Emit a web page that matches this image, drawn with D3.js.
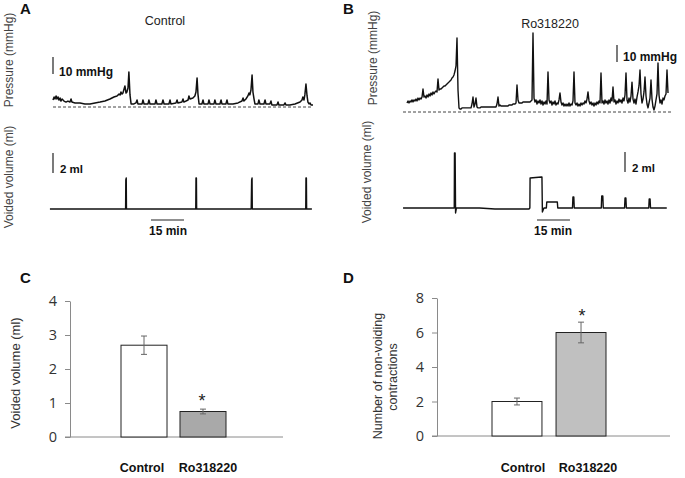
<!DOCTYPE html>
<html><head><meta charset="utf-8">
<script src="https://cdn.jsdelivr.net/npm/d3@7"></script>
<style>body{margin:0;background:#fff}svg{display:block;font-family:"Liberation Sans",Arial,sans-serif}</style>
</head><body><svg id="c" width="685" height="478"></svg>
<script>
// ---------- DATA ----------
// Panel A: control cystometry, pressure (mmHg above baseline) vs time (min)
const pressureA = [[0,4.1],[0.5,5.9],[0.9,4.7],[1.4,6.5],[1.8,4.7],[2.3,5.9],[2.7,4.1],[3.2,5.3],[3.6,3.5],[4.1,4.7],[5.0,3.5],[5.9,2.9],[6.8,3.5],[7.7,2.9],[8.2,4.7],[8.6,2.9],[10.0,2.4],[12.3,2.4],[14.5,1.8],[16.8,1.8],[19.1,2.4],[21.4,2.9],[23.6,3.5],[25.9,4.7],[27.7,5.9],[29.1,6.5],[30.0,7.6],[30.5,7.1],[30.9,8.8],[31.4,7.6],[31.8,8.2],[32.7,12.4],[33.2,8.2],[33.6,8.8],[34.1,11.2],[34.5,20.6],[35.0,7.1],[35.5,1.8],[36.8,1.8],[37.7,2.4],[38.2,4.1],[38.6,1.8],[40.5,1.8],[40.9,4.1],[41.4,1.8],[43.2,1.8],[43.6,4.1],[44.1,1.8],[46.4,1.8],[46.8,4.1],[47.3,1.8],[49.5,1.8],[50.0,4.1],[50.5,1.8],[52.7,1.8],[53.2,4.1],[53.6,1.8],[55.9,2.4],[56.4,4.1],[56.8,2.4],[58.6,2.9],[59.1,4.7],[59.5,2.9],[61.4,4.1],[61.8,6.5],[62.3,4.7],[63.6,5.3],[64.5,6.5],[65.0,8.8],[65.5,17.1],[65.9,7.6],[66.4,1.8],[67.7,1.8],[68.2,4.1],[68.6,1.8],[70.5,1.8],[70.9,4.1],[71.4,1.8],[73.2,1.8],[73.6,4.1],[74.1,1.8],[75.9,1.8],[76.4,4.1],[76.8,1.8],[78.6,1.8],[79.1,4.1],[79.5,1.8],[81.8,1.8],[84.1,2.4],[85.9,3.5],[86.4,5.3],[86.8,3.5],[87.7,4.7],[88.6,6.5],[89.1,8.2],[89.5,7.1],[90.0,10.0],[90.5,18.8],[90.9,8.8],[91.4,4.7],[91.8,1.8],[93.2,1.8],[93.6,4.1],[94.1,1.8],[95.9,1.8],[96.4,4.1],[96.8,1.8],[98.6,1.8],[99.1,3.5],[99.5,1.2],[101.8,1.2],[102.3,2.9],[102.7,1.2],[105.0,1.2],[105.5,2.4],[105.9,1.2],[107.7,1.2],[110.0,1.8],[112.3,2.9],[113.2,4.1],[113.6,5.9],[114.1,4.1],[114.5,7.1],[115.0,13.5],[115.5,6.5],[115.9,2.9],[116.4,1.8],[116.8,2.4],[117.3,1.2],[118.2,1.2]];
// Panel A: voided volume (ml) vs time (min)
const volumeA = [[-1.4,0],[33.0,0],[33.1,2.9],[33.3,3.1],[33.4,0],[64.9,0],[65.0,3.1],[65.2,3.1],[65.3,0],[90.1,0],[90.3,2.9],[90.5,3.1],[90.6,0],[114.9,0],[115.0,3.1],[115.2,3.1],[115.3,0],[117.7,0]];
// Panel B: Ro318220, pressure samples (mmHg) every dtB minutes
const dtB = 0.455;
const pressureB = [5.3,6.5,5.3,6.5,5.9,7.1,5.9,7.1,6.5,7.6,
6.5,8.2,7.1,8.2,7.6,8.8,13.5,8.8,9.4,8.2,
10.0,8.8,10.6,9.4,11.2,10.0,11.8,10.6,11.8,12.4,
11.8,19.4,12.9,13.5,13.5,14.1,14.7,15.3,15.3,15.9,
16.5,17.1,17.6,18.2,18.8,20.0,20.6,21.8,24.1,27.1,
43.5,12.9,2.4,1.8,1.8,2.4,2.4,2.4,2.4,2.4,
2.4,2.4,2.4,2.4,2.4,4.7,8.8,2.9,4.7,8.2,
2.9,2.4,2.4,2.4,2.9,2.9,2.9,2.9,2.9,2.9,
2.9,2.9,2.9,2.9,2.9,2.9,2.9,2.9,2.9,2.9,
4.7,8.8,3.5,4.1,3.5,3.5,3.5,3.5,3.5,3.5,
3.5,3.5,4.1,4.1,4.1,4.1,4.7,4.7,4.7,5.3,
15.9,7.1,5.3,5.3,5.3,5.3,5.9,5.9,5.9,5.9,
5.9,5.9,5.9,5.9,6.5,7.1,46.5,8.2,5.9,7.1,
4.7,6.5,5.3,7.1,4.7,6.5,4.1,5.9,4.7,6.5,
4.7,23.5,7.1,5.3,6.5,4.1,5.9,4.7,6.5,4.1,
5.3,4.7,7.1,11.2,5.9,4.1,5.3,3.5,4.7,3.5,
4.7,3.5,5.3,3.5,4.7,4.1,6.5,23.5,5.3,4.1,
5.3,3.5,4.7,3.5,5.3,4.1,5.3,4.7,6.5,5.3,
7.6,11.8,6.5,4.7,5.9,4.1,5.3,3.5,5.3,4.1,
5.9,4.7,6.5,5.3,22.9,5.3,6.5,4.7,7.1,5.3,
6.5,4.7,7.1,5.3,8.2,6.5,14.7,5.9,7.1,4.7,
6.5,5.3,7.6,5.9,7.1,5.3,8.2,6.5,10.0,22.9,
7.1,5.3,8.2,5.9,9.4,17.6,7.6,5.3,7.6,4.7,
8.8,11.8,15.3,24.7,10.6,5.3,7.6,11.8,20.6,9.4,
4.7,2.4,5.3,8.2,18.8,7.6,2.9,1.2,3.5,7.1,
10.6,28.8,10.0,5.3,7.1,4.7,8.2,7.1,9.4,10.6,
24.7,11.2];
// Panel B: voided volume (ml) vs time (min)
const volumeB = [[-1.8,0],[21.5,0],[21.6,5.5],[21.9,5.5],[22.1,-0.5],[22.5,0],[33,0],[40,-0.1],[55.5,-0.1],[55.9,0],[56.0,3.0],[61.2,3.1],[61.4,3.1],[61.6,-0.4],[62.3,0],[63.4,0],[63.6,0.6],[68.4,0.6],[68.6,0],[75.3,0],[75.5,1.1],[75.9,1.1],[76.1,0],[88.4,0],[88.6,1.2],[89.1,1.2],[89.3,0],[99.0,0],[99.2,1.0],[99.6,1.0],[99.8,0],[110.0,0],[110.2,0.9],[110.6,0.9],[110.8,0],[118.2,0]];
// Scale bars
const scalePressure = 10, scaleVolume = 2, scaleTime = 15;
// Panels C & D
const barCats = ["Control","Ro318220"];
const voidedMean = [2.7, 0.75];
const voidedSem = [0.27, 0.07];
const nvcMean = [2.0, 6.0];
const nvcSem = [0.2, 0.6];
const voidedTicks = [0,1,2,3,4];
const nvcTicks = [0,2,4,6,8];

// ---------- DRAW ----------
const svg = d3.select("#c");
const black = "#111";

function text(x,y,s,opts={}){
  const t = svg.append("text").attr("x",x).attr("y",y).text(s)
    .attr("font-size",opts.size||12).attr("fill",opts.fill||black)
    .attr("font-weight",opts.weight||"normal")
    .attr("text-anchor",opts.anchor||"start");
  if(opts.rotate) t.attr("transform",`rotate(-90,${x},${y})`);
  return t;
}
function traceLine(data,x,y,w){
  svg.append("path").datum(data)
    .attr("d",d3.line().x(d=>x(d[0])).y(d=>y(d[1])))
    .attr("fill","none").attr("stroke",black).attr("stroke-width",w||1.4)
    .attr("stroke-linejoin","round");
}
function vbar(x,yScale,y0,val){
  const h = yScale(0)-yScale(val);
  svg.append("line").attr("x1",x).attr("x2",x).attr("y1",y0).attr("y2",y0-h)
    .attr("stroke","#222").attr("stroke-width",1.2);
}
function hbar(xScale,x0,y,val){
  const w = xScale(val)-xScale(0);
  svg.append("line").attr("x1",x0).attr("x2",x0+w).attr("y1",y).attr("y2",y)
    .attr("stroke","#222").attr("stroke-width",1.2);
}

// Panel A
const xA = d3.scaleLinear().domain([0,118.2]).range([53,313]);
const yPA = d3.scaleLinear().domain([0,10]).range([107,90]);
const yVA = d3.scaleLinear().domain([0,2]).range([209,189]);
text(20,14,"A",{size:15,weight:"bold"});
text(165,25,"Control",{size:12.5,anchor:"middle",fill:"#222"});
text(13,60,"Pressure (mmHg)",{size:12,anchor:"middle",rotate:true,fill:"#444"});
text(13,177,"Voided volume (ml)",{size:12,anchor:"middle",rotate:true,fill:"#444"});
svg.append("line").attr("x1",53).attr("x2",313).attr("y1",yPA(0)).attr("y2",yPA(0))
  .attr("stroke","#444").attr("stroke-width",1).attr("stroke-dasharray","3,2");
traceLine(pressureA,xA,yPA,1.5);
traceLine(volumeA,xA,yVA,1.4);
vbar(53,yPA,74,scalePressure);
text(59,76,"10 mmHg",{size:12,weight:"bold"});
vbar(53,yVA,173,scaleVolume);
text(60,173,"2 ml",{size:11.5,weight:"bold"});
hbar(xA,151,220,scaleTime);
text(168,235,"15 min",{size:12,weight:"bold",anchor:"middle"});

// Panel B
const xB = d3.scaleLinear().domain([0,(pressureB.length-1)*dtB]).range([407,668]);
const yPB = d3.scaleLinear().domain([0,10]).range([112,95]);
const yVB = d3.scaleLinear().domain([0,2]).range([208,188]);
text(343,14,"B",{size:15,weight:"bold"});
text(550,28,"Ro318220",{size:12.5,anchor:"middle",fill:"#222"});
text(377,58,"Pressure (mmHg)",{size:12,anchor:"middle",rotate:true,fill:"#444"});
text(371,172,"Voided volume (ml)",{size:12,anchor:"middle",rotate:true,fill:"#444"});
svg.append("line").attr("x1",403).attr("x2",673).attr("y1",yPB(0)).attr("y2",yPB(0))
  .attr("stroke","#444").attr("stroke-width",1).attr("stroke-dasharray","3,2");
traceLine(pressureB.map((p,i)=>[i*dtB,p]),xB,yPB,1.4);
traceLine(volumeB,xB,yVB,1.4);
vbar(617,yPB,62,scalePressure);
text(623,61,"10 mmHg",{size:12,weight:"bold"});
vbar(625,yVB,172,scaleVolume);
text(632,172,"2 ml",{size:11.5,weight:"bold"});
hbar(xB,537,220,scaleTime);
text(553,235,"15 min",{size:12,weight:"bold",anchor:"middle"});

// Bar panels
function barPanel(cfg){
  const y = d3.scaleLinear().domain(cfg.domain).range(cfg.yRange);
  const x = d3.scaleBand().domain(barCats).range(cfg.xRange).paddingInner(0.22);
  const ax = svg.append("g").attr("transform",`translate(${cfg.axisX},0)`)
    .call(d3.axisLeft(y).tickValues(cfg.ticks).tickFormat(d3.format("d"))
      .tickSize(5).tickSizeOuter(0).tickPadding(8));
  ax.select(".domain").attr("stroke","#8a8a8a");
  ax.selectAll(".tick line").attr("stroke","#8a8a8a");
  ax.selectAll(".tick text").attr("font-size",14.5).attr("fill","#333")
    .attr("font-family","'Open Sans','Liberation Sans',sans-serif");
  svg.append("line").attr("x1",cfg.axisX-5).attr("x2",cfg.xEnd).attr("y1",y(0)).attr("y2",y(0))
    .attr("stroke","#8a8a8a").attr("stroke-width",1);
  barCats.forEach((c,i)=>{
    svg.append("rect").attr("x",x(c)).attr("y",y(cfg.mean[i]))
      .attr("width",x.bandwidth()).attr("height",y(0)-y(cfg.mean[i]))
      .attr("fill",cfg.fills[i]).attr("stroke","#222").attr("stroke-width",1);
    const cx = x(c)+x.bandwidth()/2;
    const g = svg.append("g").attr("stroke","#666").attr("stroke-width",1);
    g.append("line").attr("x1",cx).attr("x2",cx)
      .attr("y1",y(cfg.mean[i]-cfg.sem[i])).attr("y2",y(cfg.mean[i]+cfg.sem[i]));
    [cfg.mean[i]-cfg.sem[i],cfg.mean[i]+cfg.sem[i]].forEach(v=>{
      g.append("line").attr("x1",cx-3).attr("x2",cx+3).attr("y1",y(v)).attr("y2",y(v));
    });
    text(cx+cfg.labelDx[i],472,c,{size:12.5,weight:"bold",anchor:"middle"});
    if(i===1){
      text(cx+cfg.starDx,y(cfg.mean[i]+cfg.sem[i])-cfg.starGap,"*",{size:18,anchor:"middle",fill:"#222"});
    }
  });
}
text(20,283,"C",{size:15,weight:"bold"});
barPanel({domain:[0,4],yRange:[437,301],xRange:[121,226],axisX:70,xEnd:283,ticks:voidedTicks,
  mean:voidedMean,sem:voidedSem,fills:["#fff","#a9a9a9"],labelDx:[-2,5],starDx:-1,starGap:2});
text(20,373,"Voided volume (ml)",{size:13,anchor:"middle",rotate:true,fill:"#333"});

text(343,283,"D",{size:15,weight:"bold"});
barPanel({domain:[0,8],yRange:[436,298],xRange:[492,606],axisX:437,xEnd:670,ticks:nvcTicks,
  mean:nvcMean,sem:nvcSem,fills:["#fff","#c0c0c0"],labelDx:[6,7],starDx:1,starGap:0});
text(382,376,"Number of non-voiding",{size:12.5,anchor:"middle",rotate:true,fill:"#333"});
text(397,377,"contractions",{size:12.5,anchor:"middle",rotate:true,fill:"#333"});
</script></body></html>
